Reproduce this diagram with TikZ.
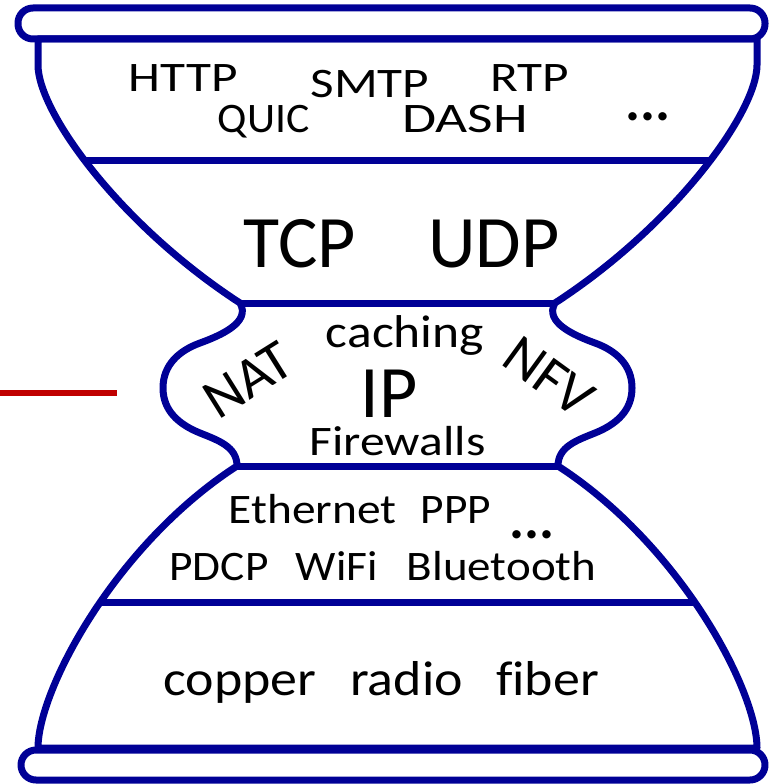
\documentclass[tikz,border=0pt]{standalone}
\usepackage{fontspec}
\setmainfont{Carlito}[Ligatures=NoCommon]
\definecolor{hgblue}{RGB}{0,0,150}
\definecolor{hgred}{RGB}{192,0,0}
\newcommand{\hstr}[2]{\scalebox{#1}[1]{#2}}
\begin{document}
\begin{tikzpicture}[x=1pt,y=1pt,
  outline/.style={draw=hgblue,line width=7pt,line join=round},
  lbl/.style={anchor=base,inner sep=0pt,font=\fontsize{42}{48}\selectfont},
  mid/.style={anchor=base,inner sep=0pt,font=\fontsize{46}{52}\selectfont},
  low/.style={anchor=base,inner sep=0pt,font=\fontsize{49}{54}\selectfont},
  big/.style={anchor=base,inner sep=0pt,font=\fontsize{74}{80}\selectfont},
  rot/.style={anchor=center,inner sep=0pt,font=\fontsize{57}{60}\selectfont},
  dots/.style={anchor=base,inner sep=0pt,font=\fontsize{56}{60}\selectfont\bfseries}]
\useasboundingbox (0,0) rectangle (769,-784);
% body clip and inner layer lines
\begin{scope}
\clip (38,-39) -- (757,-39) -- (757,-65) .. controls (757,-112) and (675,-225) .. (555,-303)
  to[out=-120,in=160] (595,-343) to[out=-20,in=90] (632,-388)
  to[out=-90,in=22] (595,-433) to[out=-158,in=90] (558,-466)
  .. controls (680,-545) and (757,-690) .. (757,-748) -- (38,-748)
  .. controls (38,-690) and (115,-545) .. (237,-466)
  to[out=90,in=-22] (200,-433) to[out=158,in=-90] (163,-388)
  to[out=90,in=200] (200,-343) to[out=20,in=-60] (240,-303)
  .. controls (120,-225) and (38,-112) .. (38,-65) -- cycle;
\coordinate (l1a) at (0,-160); \coordinate (l1b) at (769,-160);
\coordinate (l2a) at (0,-303); \coordinate (l2b) at (769,-303);
\coordinate (l3a) at (0,-466); \coordinate (l3b) at (769,-466);
\coordinate (l4a) at (0,-602); \coordinate (l4b) at (769,-602);
\draw[outline] (l1a) -- (l1b);
\draw[outline] (l2a) -- (l2b);
\draw[outline] (l3a) -- (l3b);
\draw[outline] (l4a) -- (l4b);
\end{scope}
% body outline
\draw[outline] (38,-39) -- (757,-39) -- (757,-65) .. controls (757,-112) and (675,-225) .. (555,-303)
  to[out=-120,in=160] (595,-343) to[out=-20,in=90] (632,-388)
  to[out=-90,in=22] (595,-433) to[out=-158,in=90] (558,-466)
  .. controls (680,-545) and (757,-690) .. (757,-748) -- (38,-748)
  .. controls (38,-690) and (115,-545) .. (237,-466)
  to[out=90,in=-22] (200,-433) to[out=158,in=-90] (163,-388)
  to[out=90,in=200] (200,-343) to[out=20,in=-60] (240,-303)
  .. controls (120,-225) and (38,-112) .. (38,-65) -- cycle;
% top and bottom bars
\draw[outline,rounded corners=15pt] (18,-8) rectangle (765,-39);
\draw[outline,rounded corners=15pt] (21,-750) rectangle (765,-780);
% red marker
\coordinate (ra) at (0,-393); \coordinate (rb) at (117,-393);
\draw[hgred,line width=6pt] (ra) -- (rb);
% application layer
\node[lbl] (http) at (183.5,-92) {\hstr{1.22}{HTTP}};
\node[lbl] (smtp) at (370,-97) {\hstr{1.22}{SMTP}};
\node[lbl] (rtp) at (530,-92) {\hstr{1.22}{RTP}};
\node[lbl] (quic) at (263.5,-132) {\hstr{1.04}{QUIC}};
\node[lbl] (dash) at (465,-132) {\hstr{1.32}{DASH}};
\node[dots] (adots) at (648,-120) {...};
% transport
\node[big] (tcp) at (300,-267) {TCP};
\node[big] (udp) at (494,-267) {UDP};
% network
\node[mid] (caching) at (405,-347) {\hstr{1.12}{caching}};
\node[big] (ip) at (389,-417) {IP};
\node[lbl] (fw) at (397.5,-455) {\hstr{1.18}{Firewalls}};
\node[rot,rotate=32] (nat) at (248,-380) {NAT};
\node[rot,rotate=-36] (nfv) at (549,-377) {NFV};
% link
\node[lbl] (eth) at (312.5,-523) {\hstr{1.13}{Ethernet}};
\node[lbl] (ppp) at (456,-523) {\hstr{1.08}{PPP}};
\node[dots] (ldots) at (532,-538) {...};
\node[lbl] (pdcp) at (219,-580) {\hstr{1.08}{PDCP}};
\node[lbl] (wifi) at (337,-580) {\hstr{1.08}{WiFi}};
\node[lbl] (bt) at (501.5,-580) {\hstr{1.12}{Bluetooth}};
% physical
\node[low] (cu) at (240,-695) {\hstr{1.1}{copper}};
\node[low] (radio) at (406.5,-695) {\hstr{1.1}{radio}};
\node[low] (fiber) at (547.5,-695) {\hstr{1.1}{fiber}};
\end{tikzpicture}
\end{document}
